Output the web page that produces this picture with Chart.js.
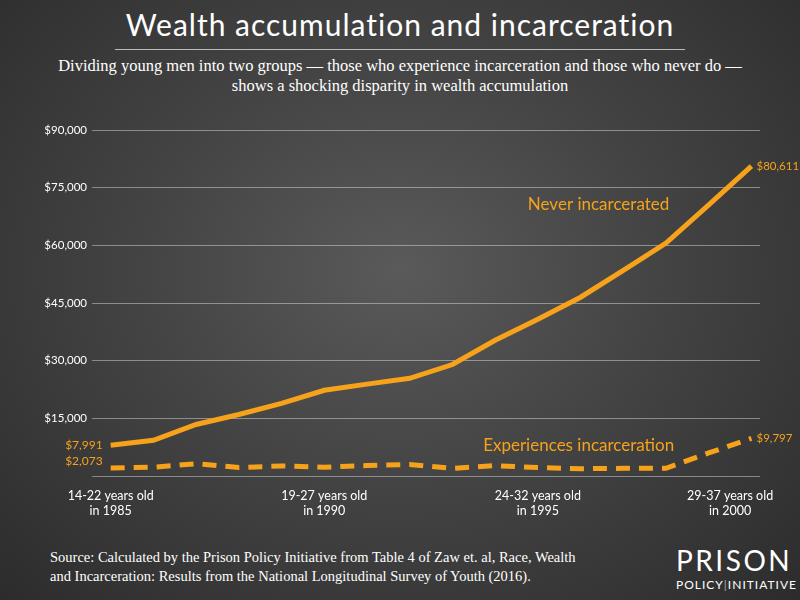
<!DOCTYPE html>
<html><head><meta charset="utf-8">
<script src="https://cdn.jsdelivr.net/npm/chart.js@4"></script>
<style>
html,body{margin:0;padding:0;width:800px;height:600px;overflow:hidden}
body{background:radial-gradient(ellipse at 50% 45%,#5a5a5a 0%,#444 45%,#2c2c2c 100%);position:relative;font-family:Lato,sans-serif}
#c{position:absolute;left:0;top:0}
.t{position:absolute;color:#fff}
</style></head><body>
<div class="t" style="left:0;width:800px;top:6px;text-align:center;font-size:30px;letter-spacing:1px;font-family:Lato">Wealth accumulation and incarceration</div>
<div style="position:absolute;left:115px;width:570px;top:49px;height:1px;background:#bbb"></div>
<div class="t" style="left:0;width:800px;top:56px;text-align:center;font-size:16.5px;line-height:20px;font-family:'Liberation Serif',serif">Dividing young men into two groups — those who experience incarceration and those who never do —<br>shows a shocking disparity in wealth accumulation</div>
<div class="t" style="left:50px;top:548px;font-size:14.5px;line-height:19px;font-family:'Liberation Serif',serif">Source: Calculated by the Prison Policy Initiative from Table 4 of Zaw et. al, Race, Wealth<br>and Incarceration: Results from the National Longitudinal Survey of Youth (2016).</div>
<div class="t" style="left:676px;top:545px;font-size:28px;letter-spacing:2.5px;font-family:Lato;line-height:30px">PRISON</div>
<div class="t" style="left:676px;top:577px;font-size:12px;letter-spacing:1px;font-family:Lato">POLICY<span style="color:#aaa">|</span>INITIATIVE</div>
<canvas id="c" width="800" height="600"></canvas>
<script>
const years=[1985,1986,1987,1988,1989,1990,1991,1992,1993,1994,1995,1996,1997,1998,1999,2000];
const never=[7991,9300,13400,16000,18900,22300,23900,25400,29000,35300,40800,46500,53500,60600,70500,80611];
const exper=[2073,2300,3200,2200,2600,2300,2700,3000,2000,2700,2200,1900,2000,2000,6000,9797];
const xTickPos=[1985,1990,1995,1999.5];
const xTickText=[['14-22 years old','in 1985'],['19-27 years old','in 1990'],['24-32 years old','in 1995'],['29-37 years old','in 2000']];
const yTicks=[0,15000,30000,45000,60000,75000,90000];
const orange='#f7a21b';
const ann={id:'ann',afterDatasetsDraw(ch){
 const c=ch.ctx,x=ch.scales.x,y=ch.scales.y;c.save();c.fillStyle=orange;c.font='12px Lato';c.textBaseline='middle';
 c.textAlign='right';
 c.fillText('$7,991',x.getPixelForValue(1985)-8,y.getPixelForValue(never[0]));
 c.fillText('$2,073',x.getPixelForValue(1985)-8,y.getPixelForValue(exper[0])-7);
 c.textAlign='left';
 c.font='11.5px Lato';
 c.fillText('$80,611',x.getPixelForValue(2000)+5,y.getPixelForValue(never[15]));
 c.fillText('$9,797',x.getPixelForValue(2000)+5,y.getPixelForValue(exper[15]));
 c.font='17px Lato';
 c.fillText('Never incarcerated',x.getPixelForValue(1995)-10,y.getPixelForValue(70500));
 c.fillText('Experiences incarceration',x.getPixelForValue(1994)-12,y.getPixelForValue(8000));
 c.restore();}};
new Chart(document.getElementById('c'),{type:'line',
 data:{datasets:[
  {data:years.map((v,i)=>({x:v,y:never[i]})),borderColor:orange,borderWidth:5,pointRadius:0,tension:0},
  {data:years.map((v,i)=>({x:v,y:exper[i]})),borderColor:orange,borderWidth:5,borderDash:[14,9],pointRadius:0,tension:0}]},
 options:{responsive:false,animation:false,
  layout:{padding:{left:30,right:40,top:130,bottom:74}},
  plugins:{legend:{display:false},tooltip:{enabled:false}},
  scales:{
   x:{type:'linear',min:1984.75,max:2000.2,grid:{display:false},border:{display:false},
    afterBuildTicks(s){s.ticks=xTickPos.map(v=>({value:v}));},
    afterFit(s){s.height=50;},
    ticks:{color:'#fff',font:{family:'Lato',size:12.5},padding:4,maxRotation:0,callback:(v,i)=>xTickText[i]}},
   y:{min:0,max:90000,grid:{color:'rgba(255,255,255,0.4)',lineWidth:1},border:{display:false},
    afterBuildTicks(s){s.ticks=yTicks.map(v=>({value:v}));},
    afterFit(s){s.width=70;},
    ticks:{color:'#fff',font:{family:'Lato',size:11.5},padding:5,callback:v=>v===0?'':'$'+v.toLocaleString('en-US')}}
  }},plugins:[ann]});
</script></body></html>
